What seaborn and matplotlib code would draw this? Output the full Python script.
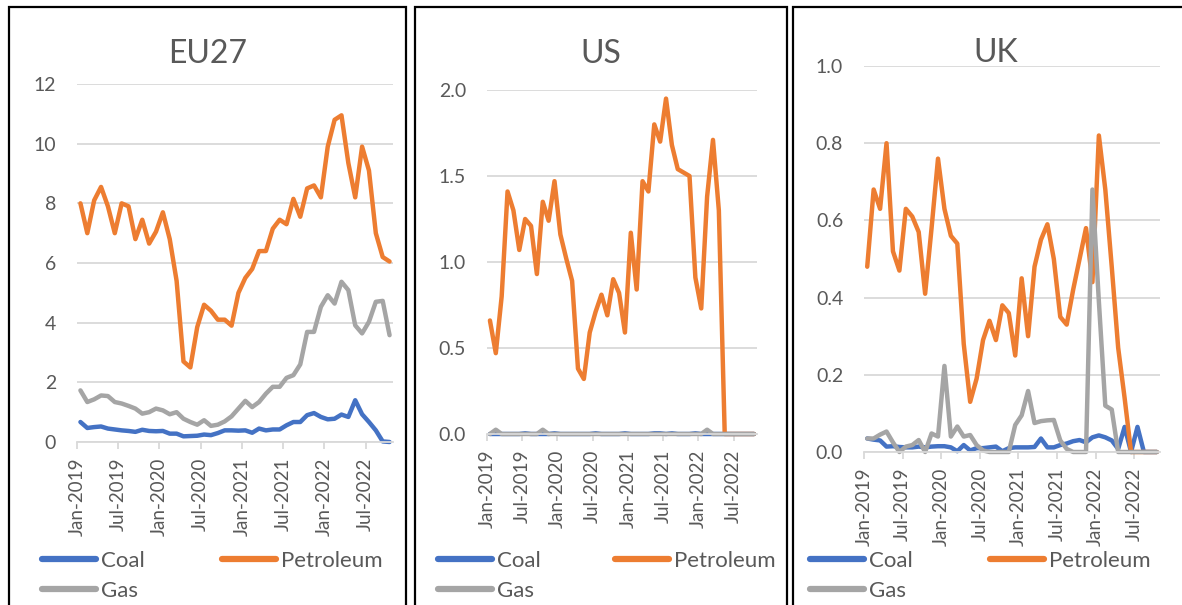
import matplotlib
matplotlib.use("Agg")
import matplotlib.pyplot as plt
from matplotlib.patches import Rectangle
from matplotlib.lines import Line2D
from matplotlib.ticker import FormatStrFormatter, MultipleLocator
import numpy as np
import pandas as pd
import seaborn as sns

# ---------------- data ----------------
tick_labels = ["Jan-2019", "Jul-2019", "Jan-2020", "Jul-2020",
               "Jan-2021", "Jul-2021", "Jan-2022", "Jul-2022"]
n_months = 46  # Jan-2019 .. Oct-2022
fuels = ["Coal", "Petroleum", "Gas"]

eu_coal = [0.67, 0.47, 0.50, 0.52, 0.45, 0.42, 0.39, 0.37, 0.34, 0.41,
           0.37, 0.36, 0.37, 0.28, 0.28, 0.19, 0.20, 0.21, 0.25, 0.23,
           0.30, 0.39, 0.39, 0.38, 0.39, 0.31, 0.45, 0.39, 0.42, 0.42,
           0.56, 0.67, 0.67, 0.90, 0.97, 0.84, 0.76, 0.78, 0.92, 0.84,
           1.40, 0.93, 0.67, 0.39, 0.02, 0.00]
eu_petroleum = [8.0, 7.0, 8.1, 8.55, 7.9, 7.0, 8.0, 7.9, 6.8, 7.45,
                6.65, 7.05, 7.7, 6.8, 5.4, 2.7, 2.5, 3.85, 4.6, 4.4,
                4.1, 4.1, 3.9, 5.0, 5.5, 5.8, 6.4, 6.4, 7.15, 7.45,
                7.3, 8.15, 7.55, 8.5, 8.6, 8.2, 9.9, 10.8, 10.95, 9.35,
                8.2, 9.9, 9.1, 7.0, 6.2, 6.05]
eu_gas = [1.73, 1.34, 1.43, 1.56, 1.54, 1.34, 1.29, 1.21, 1.12, 0.95,
          1.0, 1.12, 1.06, 0.93, 1.0, 0.78, 0.67, 0.58, 0.73, 0.54,
          0.58, 0.69, 0.86, 1.12, 1.38, 1.17, 1.34, 1.62, 1.85, 1.85,
          2.15, 2.24, 2.6, 3.69, 3.69, 4.53, 4.92, 4.64, 5.37, 5.09,
          3.91, 3.64, 4.03, 4.7, 4.73, 3.58]

us_coal = [0, 0, 0, 0, 0, 0, 0.004, 0, 0, 0,
           0, 0.004, 0, 0, 0, 0, 0, 0, 0.004, 0,
           0, 0, 0, 0.004, 0, 0, 0, 0, 0.004, 0.004,
           0, 0.004, 0, 0, 0, 0.004, 0, 0, 0, 0,
           0, 0, 0, 0, 0, 0]
us_petroleum = [0.66, 0.47, 0.80, 1.41, 1.30, 1.07, 1.25, 1.21, 0.93, 1.35,
                1.24, 1.47, 1.16, 1.02, 0.89, 0.38, 0.32, 0.59, 0.71, 0.81,
                0.69, 0.90, 0.82, 0.59, 1.17, 0.84, 1.47, 1.41, 1.80, 1.70,
                1.95, 1.68, 1.54, 1.52, 1.50, 0.91, 0.73, 1.38, 1.71, 1.30,
                0, 0, 0, 0, 0, 0]
us_gas = [0, 0.025, 0, 0, 0, 0, 0, 0, 0, 0.025,
          0, 0, 0, 0, 0, 0, 0, 0, 0, 0,
          0, 0, 0, 0, 0, 0, 0, 0, 0, 0,
          0, 0, 0, 0, 0, 0, 0, 0.025, 0, 0,
          0, 0, 0, 0, 0, 0]

uk_coal = [0.035, 0.032, 0.03, 0.014, 0.015, 0.013, 0.012, 0.012, 0.014, 0.012,
           0.014, 0.015, 0.015, 0.012, 0.002, 0.018, 0.004, 0.010, 0.010, 0.012,
           0.014, 0.002, 0.010, 0.012, 0.012, 0.012, 0.013, 0.035, 0.012, 0.012,
           0.018, 0.022, 0.028, 0.031, 0.025, 0.038, 0.043, 0.038, 0.03, 0.008,
           0.065, 0, 0.065, 0, 0, 0]
uk_petroleum = [0.48, 0.68, 0.63, 0.80, 0.52, 0.47, 0.63, 0.61, 0.57, 0.41,
                0.58, 0.76, 0.63, 0.56, 0.54, 0.28, 0.13, 0.19, 0.29, 0.34,
                0.29, 0.38, 0.36, 0.25, 0.45, 0.30, 0.48, 0.55, 0.59, 0.50,
                0.35, 0.33, 0.42, 0.50, 0.58, 0.44, 0.82, 0.68, 0.48, 0.27,
                0.14, 0, 0, 0, 0, 0]
uk_gas = [0.035, 0.035, 0.045, 0.053, 0.025, 0, 0.014, 0.018, 0.031, 0,
          0.048, 0.04, 0.223, 0.04, 0.066, 0.04, 0.044, 0.018, 0.004, 0,
          0, 0, 0, 0.07, 0.095, 0.158, 0.075, 0.08, 0.082, 0.083,
          0.03, 0.008, 0, 0, 0, 0.68, 0.39, 0.12, 0.11, 0,
          0, 0, 0, 0, 0, 0]

colors = {"Coal": "#4472C4", "Petroleum": "#ED7D31", "Gas": "#A5A5A5"}
TXT = "#595959"
GRID = "#D9D9D9"

W, H = 1182, 605

def long_df(coal, pet, gas):
    rows = []
    for fuel, vals in zip(fuels, [coal, pet, gas]):
        for i, v in enumerate(vals):
            rows.append({"month": i + 0.5, "value": v, "Fuel": fuel})
    return pd.DataFrame(rows)

panels = [
    dict(title="EU27", df=long_df(eu_coal, eu_petroleum, eu_gas),
         ax_px=(77, 84, 393, 442), ymax=12, ystep=2, fmt="%d",
         title_xy=(208, 63), leg=(42, 222), box=(9, 406)),
    dict(title="US", df=long_df(us_coal, us_petroleum, us_gas),
         ax_px=(487, 90, 757, 434), ymax=2.0, ystep=0.5, fmt="%.1f",
         title_xy=(601, 63), leg=(438, 615), box=(415, 787)),
    dict(title="UK", df=long_df(uk_coal, uk_petroleum, uk_gas),
         ax_px=(864, 66, 1160, 452), ymax=1.0, ystep=0.2, fmt="%.1f",
         title_xy=(996, 62), leg=(810, 990), box=(793, 1186)),
]

sns.set_theme(style="white")
plt.rcParams["font.family"] = ["Lato", "DejaVu Sans"]

fig = plt.figure(figsize=(W / 100, H / 100), dpi=100)
fig.patch.set_facecolor("white")

for p in panels:
    x0, y0, x1, y1 = p["ax_px"]
    ax = fig.add_axes([x0 / W, 1 - y1 / H, (x1 - x0) / W, (y1 - y0) / H])
    sns.lineplot(data=p["df"], x="month", y="value", hue="Fuel",
                 hue_order=fuels, palette=colors, linewidth=3.2,
                 legend=False, ax=ax, estimator=None, sort=False)
    for ln in ax.get_lines():
        ln.set_clip_on(False)
        ln.set_solid_joinstyle("round")
        ln.set_solid_capstyle("round")
    ax.set_xlim(0, n_months)
    ax.set_ylim(0, p["ymax"])
    ax.set_xticks(np.arange(0, n_months, 6))
    ax.set_xticklabels(tick_labels, rotation=90)
    ax.yaxis.set_major_locator(MultipleLocator(p["ystep"]))
    ax.yaxis.set_major_formatter(FormatStrFormatter(p["fmt"]))
    ax.set_xlabel("")
    ax.set_ylabel("")
    ax.yaxis.grid(True, color=GRID, linewidth=1.3)
    ax.set_axisbelow(True)
    for s in ["top", "left", "right"]:
        ax.spines[s].set_visible(False)
    ax.spines["bottom"].set_color(GRID)
    ax.spines["bottom"].set_linewidth(1.3)
    ax.tick_params(axis="x", length=5, width=1.3, color=GRID, pad=6,
                   labelsize=13.5, labelcolor=TXT, bottom=True, direction="out")
    ax.tick_params(axis="y", length=0, pad=15, labelsize=14, labelcolor=TXT)
    ax.patch.set_alpha(0)

    tx, ty = p["title_xy"]
    fig.text(tx / W, 1 - ty / H, p["title"], ha="center", va="baseline",
             fontsize=23, color=TXT)

    # legends (Excel style: Coal, Petroleum on row 1, Gas on row 2)
    lx1, lx2 = p["leg"]
    h = {f: Line2D([], [], color=colors[f], lw=4.5, solid_capstyle="round")
         for f in fuels}
    common = dict(loc="upper left", frameon=False, borderpad=0,
                  borderaxespad=0, handlelength=2.45, handletextpad=0.22,
                  labelspacing=0.45, fontsize=16, labelcolor=TXT,
                  bbox_transform=fig.transFigure)
    fig.legend([h["Coal"], h["Gas"]], ["Coal", "Gas"],
               bbox_to_anchor=(lx1 / W, 1 - 551 / H), **common)
    fig.legend([h["Petroleum"]], ["Petroleum"],
               bbox_to_anchor=(lx2 / W, 1 - 551 / H), **common)

    bx0, bx1 = p["box"]
    fig.add_artist(Rectangle((bx0 / W, -0.05), (bx1 - bx0) / W,
                             1.05 - 7 / H, transform=fig.transFigure,
                             fill=False, ec="black", lw=1.6, clip_on=False))

fig.savefig("out.png", dpi=100, facecolor="white")
